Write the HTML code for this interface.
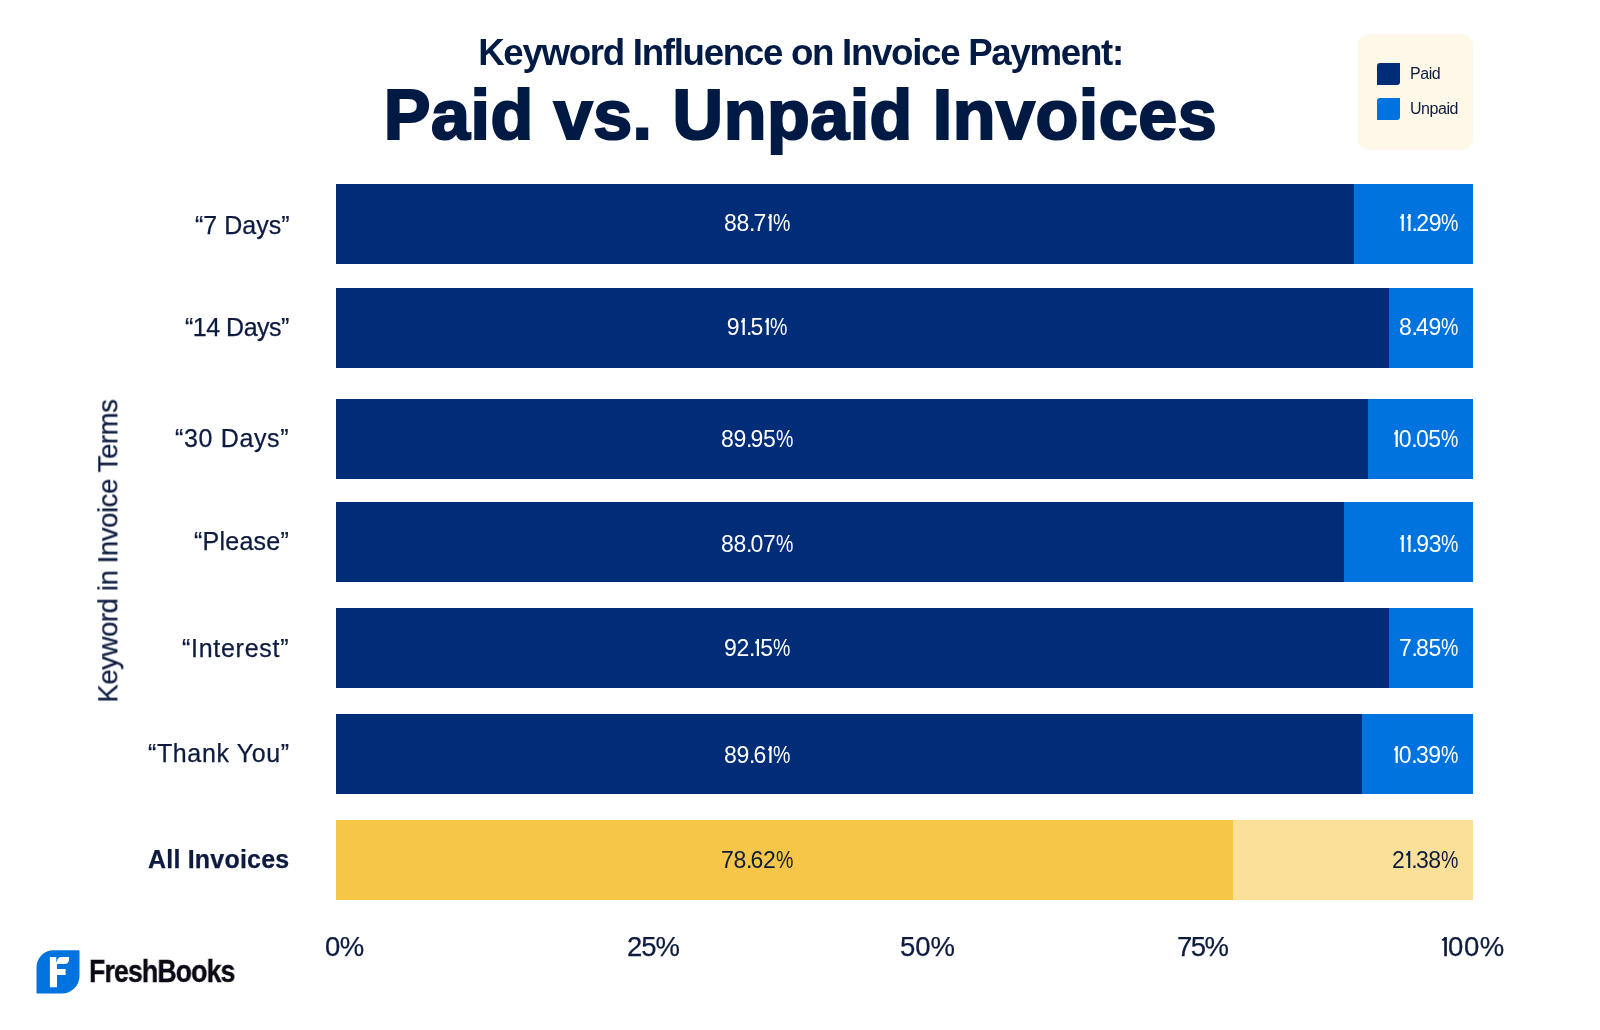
<!DOCTYPE html>
<html>
<head>
<meta charset="utf-8">
<style>
html,body{margin:0;padding:0;background:#fff;}
.rl,.a,.v,.ax,.ylab,.lt{will-change:transform;}
.rl,.ax,.ylab{-webkit-text-stroke:0.25px #0c1b3f;}
body{width:1600px;height:1030px;position:relative;overflow:hidden;font-family:"Liberation Sans",sans-serif;color:#0c1b3f;}
.a{position:absolute;white-space:nowrap;line-height:1;}
.t1{left:0;width:1601px;text-align:center;top:35px;font-size:36.7px;font-weight:bold;color:#021b45;letter-spacing:-1.31px;}
.t2{left:0;width:1601px;text-align:center;top:80px;font-size:70px;font-weight:bold;color:#011a44;letter-spacing:0.52px;-webkit-text-stroke:2.2px #011a44;}
.legend{position:absolute;left:1358px;top:34px;width:115px;height:116px;background:#fef8e8;border-radius:11px;}
.sw{position:absolute;left:19px;width:23px;height:22px;border-radius:3px 0 3px 0;}
.lt{position:absolute;left:52px;font-size:16px;line-height:1;color:#0c1b3f;letter-spacing:-0.45px;}
.bar{position:absolute;left:336px;width:1137px;height:80px;}
.p{position:absolute;left:0;top:0;height:80px;background:#012c78;}
.u{position:absolute;top:0;right:0;height:80px;background:#0073de;}
.bar.all .p{background:#f5c647;}
.bar.all .u{background:#fbe09a;}
.v{position:absolute;top:27.5px;font-size:23px;line-height:1;color:#fff;letter-spacing:-0.3px;white-space:nowrap;}
.v i,.one{font-style:normal;position:relative;margin-left:0.06em;letter-spacing:-0.043em;}
.v i::before,.one::before{content:'';position:absolute;left:0.026em;top:0.243em;width:0.157em;height:0.083em;background:currentColor;transform:rotate(-38deg);}
.v b{font-weight:normal;letter-spacing:-1.8px;}
.v s{text-decoration:none;display:inline-block;transform:scaleX(0.85);transform-origin:0 0;margin-right:-2.8px;}
.bar.all .v{color:#0c1b3f;}
.vp{left:0;width:842px;text-align:center;}
.vu{right:15px;text-align:right;}
.rl{position:absolute;right:1311px;font-size:25px;line-height:1;color:#0c1b3f;white-space:nowrap;}
.ax{position:absolute;top:933px;font-size:27.5px;line-height:1;color:#0c1b3f;letter-spacing:-0.5px;}
.ylab{position:absolute;left:107.5px;top:551px;font-size:27.5px;line-height:1;color:#0c1b3f;letter-spacing:-0.4px;transform:translate(-50%,-50%) rotate(-90deg);white-space:nowrap;}
</style>
</head>
<body>
<div class="a t1">Keyword Influence on Invoice Payment:</div>
<div class="a t2">Paid vs. Unpaid Invoices</div>

<div class="legend">
  <div class="sw" style="top:29px;background:#012c78"></div>
  <div class="lt" style="top:32px">Paid</div>
  <div class="sw" style="top:64px;background:#0073de"></div>
  <div class="lt" style="top:67px">Unpaid</div>
</div>

<div class="ylab">Keyword in Invoice Terms</div>

<div class="rl" style="top:213px">“7 Days”</div>
<div class="rl" style="top:315px;letter-spacing:-0.5px;margin-right:0.5px">“14 Days”</div>
<div class="rl" style="top:426px;letter-spacing:0.65px;margin-right:-0.65px">“30 Days”</div>
<div class="rl" style="top:529px;letter-spacing:0.25px;margin-right:-0.25px">“Please”</div>
<div class="rl" style="top:636px;letter-spacing:0.72px;margin-right:-0.72px">“Interest”</div>
<div class="rl" style="top:740.5px;letter-spacing:0.62px;margin-right:-0.62px">“Thank You”</div>
<div class="rl" style="top:847px;font-weight:bold;letter-spacing:0.2px;margin-right:-0.2px">All Invoices</div>

<div class="bar" style="top:184px"><div class="p" style="width:1018px"></div><div class="u" style="width:119px"></div><div class="v vp" style="top:27.7px">88<b>.</b>7<i>I</i><s>%</s></div><div class="v vu" style="top:27.7px"><i>I</i><i>I</i><b>.</b>29<s>%</s></div></div>
<div class="bar" style="top:288px"><div class="p" style="width:1053px"></div><div class="u" style="width:84px"></div><div class="v vp" style="top:28.0px">9<i>I</i><b>.</b>5<i>I</i><s>%</s></div><div class="v vu" style="top:28.0px">8<b>.</b>49<s>%</s></div></div>
<div class="bar" style="top:399px"><div class="p" style="width:1032px"></div><div class="u" style="width:105px"></div><div class="v vp" style="top:29.1px">89<b>.</b>95<s>%</s></div><div class="v vu" style="top:29.1px"><i>I</i>0<b>.</b>05<s>%</s></div></div>
<div class="bar" style="top:502px"><div class="p" style="width:1008px"></div><div class="u" style="width:129px"></div><div class="v vp" style="top:30.7px">88<b>.</b>07<s>%</s></div><div class="v vu" style="top:30.7px"><i>I</i><i>I</i><b>.</b>93<s>%</s></div></div>
<div class="bar" style="top:608px"><div class="p" style="width:1053px"></div><div class="u" style="width:84px"></div><div class="v vp" style="top:28.7px">92<b>.</b><i>I</i>5<s>%</s></div><div class="v vu" style="top:28.7px">7<b>.</b>85<s>%</s></div></div>
<div class="bar" style="top:714px"><div class="p" style="width:1026px"></div><div class="u" style="width:111px"></div><div class="v vp" style="top:29.7px">89<b>.</b>6<i>I</i><s>%</s></div><div class="v vu" style="top:29.7px"><i>I</i>0<b>.</b>39<s>%</s></div></div>
<div class="bar all" style="top:820px"><div class="p" style="width:897px"></div><div class="u" style="width:240px"></div><div class="v vp" style="top:29.2px">78<b>.</b>62<s>%</s></div><div class="v vu" style="top:29.2px">2<i>I</i><b>.</b>38<s>%</s></div></div>

<div class="ax" style="left:325px">0%</div>
<div class="ax" style="left:627px;letter-spacing:-1px">25%</div>
<div class="ax" style="left:900px;letter-spacing:0">50%</div>
<div class="ax" style="left:1177px;letter-spacing:-1.5px">75%</div>
<div class="ax" style="left:1440px;letter-spacing:0.5px"><i class="one">I</i>00%</div>

<svg style="position:absolute;left:36px;top:950px" width="44" height="44" viewBox="0 0 44 44">
  <path d="M0.5 43.5 V17.3 A17 17 0 0 1 17.5 0.3 H42.5 Q43.5 0.3 43.5 1.3 V26 A17.5 17.5 0 0 1 26 43.5 Z" fill="#0073de"/>
  <path d="M13.9 6.9 H20.3 V11.8 H21 V37.2 H13.9 Z" fill="#fff"/>
  <path d="M21 11.2 A4.3 4.3 0 0 1 25.3 6.9 H33.1 V9.6 A4.3 4.3 0 0 1 28.8 13.9 H21 Z" fill="#fff"/>
  <path d="M21 19 H29.6 V25 H21 Z" fill="#fff"/>
</svg>
<div class="a" style="left:89px;top:956px;font-size:31px;font-weight:bold;color:#0a0a14;letter-spacing:-1px;-webkit-text-stroke:0.4px #0a0a14;transform:scaleX(0.86);transform-origin:0 0">FreshBooks</div>
</body>
</html>
